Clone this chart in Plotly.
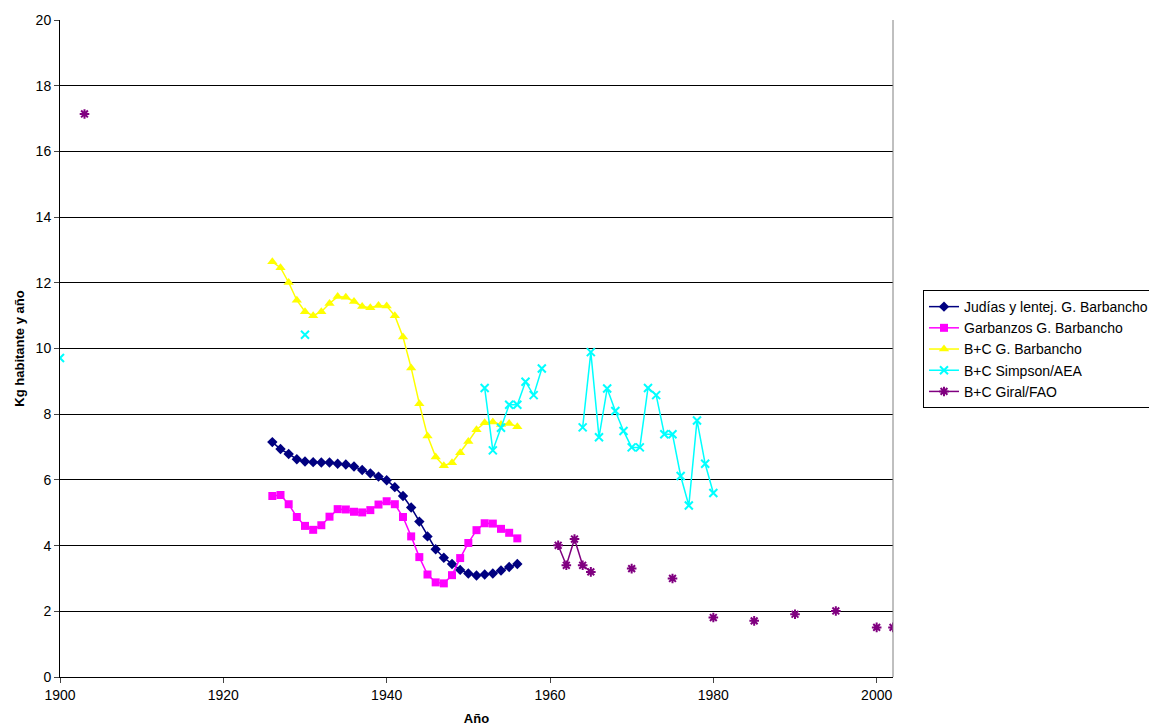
import plotly.graph_objects as go

years_gb = list(range(1926, 1957))
judias = [7.15, 6.94, 6.79, 6.63, 6.56, 6.54, 6.53, 6.53, 6.49, 6.47, 6.41, 6.30, 6.20, 6.10, 5.99,
          5.78, 5.51, 5.16, 4.73, 4.28, 3.89, 3.63, 3.44, 3.26, 3.15, 3.09, 3.12, 3.15, 3.24, 3.35, 3.44]
garbanzos = [5.51, 5.54, 5.26, 4.87, 4.60, 4.48, 4.62, 4.88, 5.11, 5.10, 5.03, 5.01, 5.08, 5.25, 5.35,
             5.26, 4.87, 4.28, 3.65, 3.12, 2.88, 2.85, 3.10, 3.62, 4.08, 4.47, 4.68, 4.67, 4.51, 4.39, 4.22]
bc_gb = [12.64, 12.46, 12.01, 11.47, 11.12, 11.00, 11.12, 11.37, 11.58, 11.56, 11.43, 11.28, 11.24, 11.31, 11.29,
         11.00, 10.35, 9.41, 8.32, 7.34, 6.70, 6.43, 6.52, 6.83, 7.17, 7.53, 7.74, 7.76, 7.69, 7.72, 7.62]

# None marks a break between non-consecutive years
years_simpson = [1900, None, 1930, None, 1952, 1953, 1954, 1955, 1956, 1957, 1958, 1959, None,
                 1964, 1965, 1966, 1967, 1968, 1969, 1970, 1971, 1972, 1973, 1974, 1975, 1976, 1977,
                 1978, 1979, 1980]
simpson = [9.71, None, 10.42, None, 8.80, 6.90, 7.59, 8.29, 8.29, 8.99, 8.58, 9.39, None,
           7.60, 9.89, 7.30, 8.78, 8.10, 7.49, 6.99, 6.99, 8.80, 8.58, 7.39, 7.39, 6.12, 5.22,
           7.81, 6.49, 5.60]

years_giral = [1903, None, 1961, 1962, 1963, 1964, 1965, None, 1970, None, 1975, None, 1980, None,
               1985, None, 1990, None, 1995, None, 2000, None, 2002]
giral = [17.14, None, 4.01, 3.40, 4.20, 3.40, 3.20, None, 3.30, None, 3.00, None, 1.81, None,
         1.71, None, 1.91, None, 2.01, None, 1.51, None, 1.51]

x_ticks = [1900, 1920, 1940, 1960, 1980, 2000]
y_ticks = [0, 2, 4, 6, 8, 10, 12, 14, 16, 18, 20]

fig = go.Figure()
fig.add_trace(go.Scatter(x=years_gb, y=judias, mode="lines+markers", name="Judías y lentej. G. Barbancho",
                         line=dict(color="#000080", width=1.5),
                         marker=dict(symbol="diamond", size=8, color="#000080")))
fig.add_trace(go.Scatter(x=years_gb, y=garbanzos, mode="lines+markers", name="Garbanzos G. Barbancho",
                         line=dict(color="#FF00FF", width=1.5),
                         marker=dict(symbol="square", size=8, color="#FF00FF")))
fig.add_trace(go.Scatter(x=years_gb, y=bc_gb, mode="lines+markers", name="B+C G. Barbancho",
                         line=dict(color="#FFFF00", width=1.5),
                         marker=dict(symbol="triangle-up", size=9, color="#FFFF00")))
fig.add_trace(go.Scatter(x=years_simpson, y=simpson, mode="lines+markers", name="B+C Simpson/AEA",
                         connectgaps=False,
                         line=dict(color="#00FFFF", width=1.5),
                         marker=dict(symbol="x-thin-open", size=8, color="#00FFFF",
                                     line=dict(color="#00FFFF", width=2))))
fig.add_trace(go.Scatter(x=years_giral, y=giral, mode="lines+markers", name="B+C Giral/FAO",
                         connectgaps=False,
                         line=dict(color="#800080", width=1.5),
                         marker=dict(symbol="asterisk-open", size=8, color="#800080",
                                     line=dict(color="#800080", width=2))))

fig.update_layout(
    width=1149, height=727,
    paper_bgcolor="white", plot_bgcolor="white",
    margin=dict(l=60, r=256, t=20, b=50, autoexpand=False),
    font=dict(family="Liberation Sans, Arial, sans-serif", size=14, color="black"),
    showlegend=True,
    legend=dict(x=1.036, y=0.589, xanchor="left", yanchor="top",
                bordercolor="black", borderwidth=1, bgcolor="white",
                font=dict(size=14), tracegroupgap=0, itemwidth=30),
    xaxis=dict(range=[1900, 2002], tickvals=x_ticks, ticks="outside", ticklen=5,
               showgrid=False, zeroline=False, showline=True, linecolor="black", linewidth=1,
               mirror=False, automargin=False,
               title=dict(text="<b>Año</b>", font=dict(size=13), standoff=12)),
    yaxis=dict(range=[0, 20], tickvals=y_ticks, ticks="outside", ticklen=5,
               showgrid=True, gridcolor="black", gridwidth=1, zeroline=False,
               showline=True, linecolor="black", linewidth=1, automargin=False,
               title=dict(text="<b>Kg habitante y año</b>", font=dict(size=13), standoff=8)),
)
# gray border on right side of plot area
fig.add_shape(type="line", xref="paper", yref="paper", x0=1, x1=1, y0=0, y1=1,
              line=dict(color="#808080", width=1))

fig.write_html("out.html", config={"displayModeBar": False},
               post_script="document.body.style.margin='0px';")
